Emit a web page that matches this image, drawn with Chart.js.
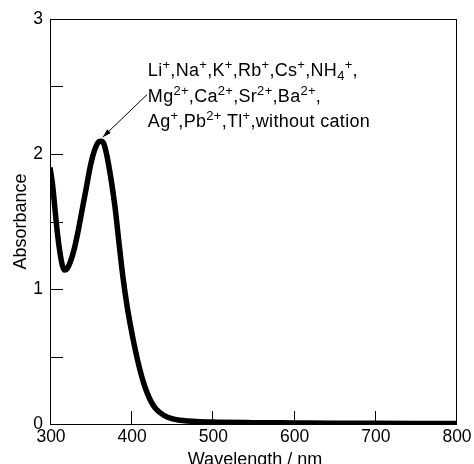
<!DOCTYPE html>
<html><head><meta charset="utf-8">
<script src="https://cdn.jsdelivr.net/npm/chart.js@4.4.1/dist/chart.umd.min.js"></script>
<style>html,body{margin:0;padding:0;background:#fff}#wrap{width:474px;height:464px}</style>
</head><body><div id="wrap"><canvas id="c" width="474" height="464"></canvas></div>
<script>
const wavelength = [300,303,306,309,312,315,318,321,325,330,335,340,345,350,355,360,363,366,370,375,380,385,388,390,395,400,405,410,415,420,425,430,440,450,460,470,480,500,550,600,650,700,750,800];
const absorbance = [1.90,1.78,1.60,1.42,1.28,1.18,1.14,1.15,1.20,1.30,1.44,1.60,1.76,1.92,2.03,2.09,2.095,2.08,1.99,1.82,1.61,1.34,1.18,1.08,0.87,0.70,0.55,0.42,0.31,0.225,0.16,0.115,0.065,0.04,0.028,0.022,0.018,0.014,0.010,0.008,0.006,0.005,0.004,0.003];
const xTicks = [300,400,500,600,700,800];
const yTicks = [0,1,2,3];
const yMinorTicks = [0.5,1.5,2.5];
const xTitle = "Wavelength / nm";
const yTitle = "Absorbance";
// annotation: [text, 0 normal | 1 superscript | -1 subscript]
const annotationLines = [
  [["Li",0],["+",1],[",Na",0],["+",1],[",K",0],["+",1],[",Rb",0],["+",1],[",Cs",0],["+",1],[",NH",0],["4",-1],["+",1],[",",0]],
  [["Mg",0],["2+",1],[",Ca",0],["2+",1],[",Sr",0],["2+",1],[",Ba",0],["2+",1],[",",0]],
  [["Ag",0],["+",1],[",Pb",0],["2+",1],[",Tl",0],["+",1],[",without cation",0]]
];
const annotationAnchor = {x: 420.5, y: 2.578};
const arrowFrom = {x: 419.5, y: 2.44};
const arrowTo = {x: 365, y: 2.125};

const FONT = '"Liberation Sans", Arial, sans-serif';

const custom = {
  id: 'custom',
  afterDraw(chart) {
    const {ctx, chartArea: a, scales: {x, y}} = chart;
    ctx.save();
    ctx.strokeStyle = '#000';
    ctx.lineWidth = 1;
    ctx.strokeRect(Math.round(a.left)+0.5, Math.round(a.top)+0.5, Math.round(a.right-a.left), Math.round(a.bottom-a.top));
    const tl = 13;
    ctx.beginPath();
    xTicks.forEach(v => {
      if (v === x.min || v === x.max) return;
      const px = Math.round(x.getPixelForValue(v)) + 0.5;
      ctx.moveTo(px, a.bottom); ctx.lineTo(px, a.bottom - tl);
    });
    yTicks.concat(yMinorTicks).forEach(v => {
      if (v === y.min || v === y.max) return;
      const py = Math.round(y.getPixelForValue(v)) + 0.5;
      ctx.moveTo(a.left, py); ctx.lineTo(a.left + tl, py);
    });
    ctx.stroke();
    ctx.fillStyle = '#000';
    ctx.textBaseline = 'alphabetic';
    // tick labels
    ctx.font = '17.5px ' + FONT;
    ctx.textAlign = 'center';
    xTicks.forEach(v => ctx.fillText(String(v), x.getPixelForValue(v) + 1, 442));
    ctx.textAlign = 'right';
    ctx.textBaseline = 'middle';
    yTicks.forEach(v => ctx.fillText(String(v), a.left - 7, y.getPixelForValue(v) + 0.5));
    ctx.textBaseline = 'alphabetic';
    // titles
    ctx.font = '18px ' + FONT;
    ctx.textAlign = 'center';
    ctx.fillText(xTitle, (a.left + a.right) / 2 + 2, 465);
    ctx.save();
    ctx.translate(25.5, (a.top + a.bottom) / 2);
    ctx.rotate(-Math.PI / 2);
    ctx.fillText(yTitle, 0, 0);
    ctx.restore();
    // annotation text
    ctx.textAlign = 'left';
    ctx.letterSpacing = '0.3px';
    const bx = x.getPixelForValue(annotationAnchor.x);
    const by = y.getPixelForValue(annotationAnchor.y);
    annotationLines.forEach((line, i) => {
      let cx = bx;
      const base = by + i * 25.7;
      line.forEach(([t, k]) => {
        if (k === 0) { ctx.font = '18px ' + FONT; ctx.fillText(t, cx, base); }
        else if (k === 1) { ctx.font = '13px ' + FONT; ctx.fillText(t, cx, base - 7); }
        else { ctx.font = '13px ' + FONT; ctx.fillText(t, cx, base + 4); }
        cx += ctx.measureText(t).width;
      });
    });
    ctx.letterSpacing = '0px';
    // arrow
    const x1 = x.getPixelForValue(arrowFrom.x), y1 = y.getPixelForValue(arrowFrom.y);
    const x2 = x.getPixelForValue(arrowTo.x), y2 = y.getPixelForValue(arrowTo.y);
    ctx.beginPath(); ctx.moveTo(x1, y1); ctx.lineTo(x2, y2); ctx.stroke();
    const ang = Math.atan2(y2 - y1, x2 - x1);
    const hl = 9, hw = 0.3;
    ctx.beginPath();
    ctx.moveTo(x2, y2);
    ctx.lineTo(x2 - hl * Math.cos(ang - hw), y2 - hl * Math.sin(ang - hw));
    ctx.lineTo(x2 - hl * Math.cos(ang + hw), y2 - hl * Math.sin(ang + hw));
    ctx.closePath(); ctx.fill();
    ctx.restore();
  }
};

new Chart(document.getElementById('c'), {
  type: 'line',
  data: {
    datasets: [{
      data: wavelength.map((w, i) => ({x: w, y: absorbance[i]})),
      borderColor: '#000',
      borderWidth: 5.5,
      pointRadius: 0,
      cubicInterpolationMode: 'monotone',
      fill: false
    }]
  },
  options: {
    responsive: false,
    animation: false,
    devicePixelRatio: 1,
    layout: {padding: {left: 0, right: 18, top: 19, bottom: 0}},
    plugins: {legend: {display: false}, tooltip: {enabled: false}},
    scales: {
      x: {
        type: 'linear', min: 300, max: 800,
        afterBuildTicks: s => { s.ticks = xTicks.map(v => ({value: v})); },
        afterFit: s => { s.height = 40; },
        grid: {display: false},
        border: {display: false},
        ticks: {display: false}
      },
      y: {
        type: 'linear', min: 0, max: 3,
        afterBuildTicks: s => { s.ticks = yTicks.map(v => ({value: v})); },
        afterFit: s => { s.width = 50; },
        grid: {display: false},
        border: {display: false},
        ticks: {display: false}
      }
    }
  },
  plugins: [custom]
});
</script></body></html>
